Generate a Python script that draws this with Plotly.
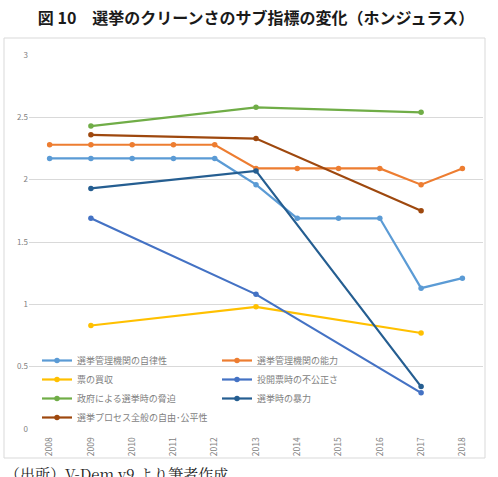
import plotly.graph_objects as go

years = [2008, 2009, 2010, 2011, 2012, 2013, 2014, 2015, 2016, 2017, 2018]
years3 = [2009, 2013, 2017]

autonomy = [2.17, 2.17, 2.17, 2.17, 2.17, 1.96, 1.69, 1.69, 1.69, 1.13, 1.21]
capacity = [2.28, 2.28, 2.28, 2.28, 2.28, 2.09, 2.09, 2.09, 2.09, 1.96, 2.09]
vote_buying = [0.83, 0.98, 0.77]
irregularities = [1.69, 1.08, 0.29]
intimidation = [2.43, 2.58, 2.54]
violence = [1.93, 2.07, 0.34]
free_fair = [2.36, 2.33, 1.75]

series = [
    ("選挙管理機関の自律性", years, autonomy, "#5B9BD5"),
    ("選挙管理機関の能力", years, capacity, "#ED7D31"),
    ("票の買収", years3, vote_buying, "#FFC000"),
    ("投開票時の不公正さ", years3, irregularities, "#4472C4"),
    ("政府による選挙時の脅迫", years3, intimidation, "#70AD47"),
    ("選挙時の暴力", years3, violence, "#255E91"),
    ("選挙プロセス全般の自由･公平性", years3, free_fair, "#9E480E"),
]

fig = go.Figure()
for name, xs, ys, col in series:
    fig.add_trace(go.Scatter(x=xs, y=ys, name=name, mode="lines+markers",
                             line=dict(color=col, width=2.2),
                             marker=dict(color=col, size=5.5)))

W, H = 498, 477
ml, mr, mt, mb = 29, 15, 55, 48
pw = W - ml - mr
ph = H - mt - mb

def px(x):
    return (x - ml) / pw

def py(y):
    return (H - mb - y) / ph

fig.update_layout(
    width=W, height=H,
    margin=dict(l=ml, r=mr, t=mt, b=mb),
    paper_bgcolor="white", plot_bgcolor="white",
    font=dict(family="Noto Sans CJK JP", color="#595959"),
    title=dict(text="<b>図 10　選挙のクリーンさのサブ指標の変化（ホンジュラス）</b>",
               x=0.5, xref="paper", y=1 - 18 / H, yanchor="middle",
               font=dict(size=16, color="#1a1a1a", family="Noto Sans CJK JP")),
    showlegend=True,
    legend=dict(orientation="h", x=px(37), y=py(346), xanchor="left", yanchor="top",
                entrywidth=135, entrywidthmode="pixels",
                font=dict(size=9, color="#7f7f7f"), bgcolor="rgba(0,0,0,0)",
                tracegroupgap=0, itemwidth=30),
    xaxis=dict(range=[2007.5, 2018.5], tickmode="array", tickvals=years,
               ticktext=[str(y) for y in years], tickangle=-90,
               tickfont=dict(size=8.5, color="#7f7f7f"), showgrid=False,
               showline=False, zeroline=False, ticks="outside", ticklen=4,
               tickcolor="rgba(0,0,0,0)"),
    yaxis=dict(range=[0, 3], tickvals=[0, 0.5, 1, 1.5, 2, 2.5, 3],
               ticktext=["0", "0.5", "1", "1.5", "2", "2.5", "3"],
               tickfont=dict(size=8, color="#7f7f7f"), gridcolor="#d9d9d9",
               gridwidth=1, zeroline=False, showline=False, ticks=""),
)

fig.add_shape(type="rect", xref="paper", yref="paper",
              x0=px(4), x1=px(485), y0=py(458), y1=py(38),
              line=dict(color="#d9d9d9", width=1), fillcolor="rgba(0,0,0,0)", layer="below")

fig.add_annotation(text="（出所）V-Dem v9 より筆者作成", xref="paper", yref="paper",
                   x=px(3), y=py(461), xanchor="left", yanchor="top", showarrow=False,
                   font=dict(size=15, color="#1a1a1a", family="Noto Serif CJK JP, Noto Sans CJK JP"))

fig.write_html("out.html")
